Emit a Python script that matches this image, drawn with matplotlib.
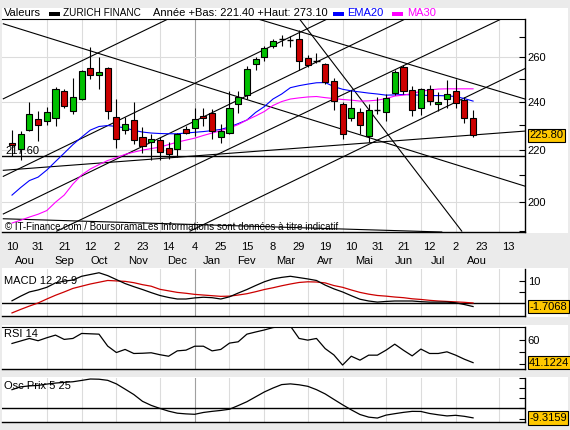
import matplotlib
matplotlib.use("Agg")
import matplotlib.pyplot as plt
from matplotlib.patches import Rectangle
from matplotlib.transforms import blended_transform_factory
from matplotlib.ticker import FixedLocator, NullFormatter

# weekly candles, ZURICH FINANC, week of 10 Aug 2009 .. week of 16 Aug 2010
weeks = list(range(54))
open_ = [222.5, 220.3, 228.0, 232.6, 231.9, 233.0, 244.5, 235.8, 241.2, 255.2,
         252.0, 255.2, 233.5, 228.1, 232.2, 225.0, 223.1, 223.7, 220.6, 220.3,
         228.4, 228.9, 234.0, 235.2, 225.0, 226.9, 239.0, 242.7, 257.0, 260.0,
         265.4, 268.5, 268.4, 268.9, 259.6, 258.3, 257.0, 249.3, 239.0, 233.0,
         235.4, 225.3, 236.4, 235.4, 243.7, 255.7, 245.1, 237.0, 245.6, 239.0,
         241.2, 244.5, 240.7, 233.0]
high = [227.8, 227.7, 240.0, 236.0, 237.5, 246.6, 245.6, 250.3, 254.0, 265.0,
        260.3, 255.5, 240.9, 233.3, 239.8, 229.0, 226.3, 225.0, 223.0, 226.7,
        229.8, 237.0, 237.3, 236.6, 230.5, 244.5, 244.8, 255.9, 260.3, 265.4,
        268.9, 270.5, 270.3, 273.1, 261.0, 262.0, 257.4, 250.5, 239.7, 245.2,
        237.0, 239.0, 241.9, 243.3, 254.2, 256.6, 247.0, 246.0, 247.4, 244.1,
        249.6, 250.0, 241.9, 236.4]
low = [217.5, 216.0, 227.5, 223.4, 230.0, 229.8, 237.0, 234.7, 240.7, 250.0,
       245.6, 232.6, 220.6, 226.3, 222.3, 218.5, 215.8, 216.0, 216.4, 217.0,
       226.3, 225.6, 229.8, 224.4, 222.6, 226.3, 235.0, 241.2, 253.9, 258.5,
       264.6, 265.4, 264.8, 253.9, 255.4, 257.5, 247.9, 236.4, 224.4, 231.9,
       226.3, 223.0, 234.7, 231.6, 242.8, 243.3, 234.0, 234.4, 238.7, 236.1,
       237.3, 237.3, 230.9, 225.0]
close = [222.0, 226.1, 234.7, 230.1, 235.6, 245.6, 238.0, 241.9, 253.6, 252.0,
         253.3, 236.1, 224.4, 230.5, 223.7, 221.4, 224.4, 219.2, 218.2, 226.3,
         226.8, 232.6, 233.0, 227.4, 227.7, 237.0, 241.9, 254.7, 259.3, 264.6,
         267.7, 268.7, 268.2, 258.5, 256.5, 258.5, 248.6, 240.4, 226.5, 237.0,
         230.1, 236.5, 236.7, 241.6, 253.4, 244.8, 236.4, 245.6, 240.4, 240.0,
         243.3, 239.4, 233.0, 225.8]

ema20 = [202.6, 205.4, 208.0, 209.3, 212.0, 215.3, 218.6, 222.0, 225.0, 227.9,
         229.4, 229.8, 229.4, 228.8, 227.8, 227.1, 226.7, 226.5, 226.4, 226.4,
         226.7, 227.0, 227.3, 227.7, 228.2, 229.2, 230.6, 232.1, 235.3, 237.8,
         241.1, 243.3, 246.1, 247.0, 247.7, 248.3, 248.4, 246.6, 245.4, 244.7,
         244.2, 243.7, 243.3, 242.8, 242.9, 243.1, 242.9, 242.8, 242.6, 242.6,
         242.5, 242.2, 241.3, 240.2]
ma30 = [192.6, 193.6, 194.7, 195.7, 197.0, 200.0, 202.6, 206.7, 210.1, 212.4,
        214.1, 215.7, 216.8, 218.1, 219.0, 219.8, 220.4, 221.0, 222.0, 223.0,
        223.8, 224.6, 225.7, 226.7, 227.7, 228.8, 230.2, 232.1, 233.8, 235.7,
        238.3, 240.0, 241.1, 241.6, 242.0, 242.2, 241.7, 241.3, 240.9, 240.6,
        240.2, 240.3, 240.6, 241.3, 242.4, 242.8, 243.5, 244.5, 245.1, 245.5,
        245.6, 245.6, 245.6, 245.6]

macd = [0.9, 3.0, 4.9, 5.8, 7.0, 9.0, 9.8, 10.3, 12.0, 12.8,
        13.6, 12.3, 10.5, 8.7, 7.3, 6.0, 4.6, 3.3, 2.4, 1.7,
        1.7, 2.2, 2.5, 2.3, 1.7, 2.7, 4.4, 6.0, 7.8, 9.5,
        10.8, 11.5, 12.0, 11.4, 10.8, 10.1, 8.0, 6.3, 4.9, 3.2,
        1.6, 0.8, 0.3, 0.6, 0.8, 0.8, 0.8, 0.5, 0.3, 0.3,
        0.3, 0.0, -0.8, -1.71]
signal = [-4.6, -3.0, -1.5, -0.1, 1.7, 3.4, 4.9, 6.5, 7.5, 8.5,
          9.3, 10.1, 9.9, 9.7, 9.1, 8.2, 7.5, 6.1, 5.4, 4.7,
          4.3, 3.8, 3.5, 3.2, 2.9, 3.0, 3.5, 4.1, 5.0, 6.0,
          6.8, 7.7, 8.5, 9.2, 9.5, 9.4, 9.0, 7.8, 7.0, 5.8,
          4.7, 3.9, 3.3, 3.0, 2.6, 2.3, 1.8, 1.5, 1.1, 0.8,
          0.6, 0.4, 0.2, -0.1]
rsi = [57.2, 59.3, 61.4, 59.5, 62.0, 64.2, 60.6, 61.4, 65.6, 65.3,
       65.0, 55.0, 49.6, 52.2, 48.8, 49.0, 49.4, 47.8, 46.5, 51.0,
       51.6, 54.9, 54.9, 51.0, 52.2, 57.5, 58.6, 65.0, 66.8, 68.5,
       70.5, 71.5, 71.8, 61.4, 60.0, 61.4, 52.9, 47.6, 39.1, 46.5,
       43.2, 47.4, 47.4, 51.6, 56.6, 51.5, 46.8, 52.5, 48.8, 48.8,
       50.2, 47.4, 44.0, 41.12]
osc = [18.5, 21.3, 22.2, 22.7, 24.0, 25.0, 25.7, 26.3, 27.6, 29.0,
       28.8, 27.7, 24.2, 19.0, 13.7, 7.0, 3.0, 0.0, -2.7, -4.7,
       -5.4, -5.8, -4.0, -2.9, -2.0, -0.8, 2.8, 6.6, 11.4, 16.2,
       20.1, 23.5, 24.2, 23.3, 21.8, 18.5, 14.3, 8.9, 3.6, -1.4,
       -6.0, -8.6, -9.5, -6.6, -5.2, -3.9, -2.9, -3.0, -5.0, -6.3,
       -7.4, -6.8, -7.8, -9.32]

# drawn trendlines: (week0, price0, week1, price1)
trendlines = [
    (-1.0, 276.3, 58.97, 205.9),
    (28.5, 278.4, 58.97, 241.1),
    (33.1, 278.4, 51.7, 189.8),
    (-1.0, 241.2, 17.8, 278.4),
    (-1.0, 209.6, 36.1, 278.4),
    (-1.0, 195.8, 45.06, 278.4),
    (5.14, 189.8, 56.1, 278.4),
    (20.46, 189.8, 58.97, 254.8),
    (-1.0, 211.9, 58.97, 227.5),
    (-1.0, 194.1, 49.4, 189.5),
]
support = 217.60

day_ticks = [0, 3, 6, 9, 12, 15, 18, 21, 24, 27, 30, 33, 36, 39, 42, 45, 48, 51, 54, 57]
day_labels = ["10", "31", "21", "12", "2", "23", "14", "4", "25", "15",
              "8", "29", "19", "10", "31", "21", "12", "2", "23", "13"]
month_starts = [-1, 4, 8, 12, 17, 21, 25, 29, 34, 38, 43, 47, 51, 56]
month_labels = ["Aou", "Sep", "Oct", "Nov", "Dec", "Jan", "Fev", "Mar",
                "Avr", "Mai", "Jun", "Jul", "Aou"]

W, H = 570, 430


def box(x0, y0, x1, y1):
    return [x0 / W, 1 - y1 / H, (x1 - x0) / W, (y1 - y0) / H]


plt.rcParams["font.family"] = ["Liberation Sans", "DejaVu Sans"]
plt.rcParams["font.size"] = 8

fig = plt.figure(figsize=(5.7, 4.3), dpi=100, facecolor="#ebebeb")

# white panel backgrounds
for y0, y1 in [(8, 233), (268, 317), (325, 370), (377, 423)]:
    fig.add_artist(Rectangle((2 / W, 1 - y1 / H), 566 / W, (y1 - y0) / H,
                             transform=fig.transFigure, facecolor="white",
                             edgecolor="none", zorder=-1))

XLIM = (-1.15, 58.97)


def setup(ax, ylim):
    ax.set_facecolor("none")
    ax.set_xlim(*XLIM)
    ax.set_ylim(*ylim)
    for s in ["left", "top"]:
        ax.spines[s].set_visible(False)
    for s in ["right", "bottom"]:
        ax.spines[s].set_linewidth(1.0)
    ax.yaxis.tick_right()
    ax.tick_params(axis="y", direction="in", length=4, width=0.8, pad=2, labelsize=8)
    ax.tick_params(axis="x", length=0)
    for m in month_starts[1:]:
        ax.axvline(m, color="#a0a0a0" if m == 21 else "#dcdcdc", lw=0.8, zorder=0)


# ---- main price panel
ax = fig.add_axes(box(2, 19, 525, 232))
ax.set_yscale("log")
setup(ax, (189.5, 278.7))
ax.spines["top"].set_visible(True)
ax.yaxis.set_major_locator(FixedLocator([200, 220, 240, 260]))
ax.yaxis.set_major_formatter(matplotlib.ticker.FixedFormatter(["200", "220", "240", "260"]))
ax.yaxis.set_minor_locator(FixedLocator([190, 210, 230, 250, 270]))
ax.yaxis.set_minor_formatter(NullFormatter())
ax.tick_params(axis="y", which="minor", direction="in", length=4, width=0.8)
for lvl in [200, 220, 240, 260]:
    ax.axhline(lvl, color="#dcdcdc", lw=0.8, zorder=0)

ax.set_xticks(day_ticks)
ax.set_xticklabels(day_labels)
ax.tick_params(axis="x", pad=7, labelsize=8)

for x0, p0, x1, p1 in trendlines:
    ax.plot([x0, x1], [p0, p1], color="black", lw=0.8, zorder=2)
ax.axhline(support, color="black", lw=1.0, zorder=2)

ax.plot(weeks, ema20, color="#0000ff", lw=0.8, zorder=3)
ax.plot(weeks, ma30, color="#ff00ff", lw=0.8, zorder=3)

for i, o, h, l, c in zip(weeks, open_, high, low, close):
    ax.vlines(i, l, h, color="black", lw=0.8, zorder=4)
    if abs(c - o) < 0.4:
        ax.hlines((o + c) / 2, i - 0.35, i + 0.35, color="black", lw=1.0, zorder=5)
    else:
        ax.bar(i, abs(c - o), bottom=min(o, c), width=0.7,
               color="#00c000" if c > o else "#cc0000",
               edgecolor="black", lw=0.8, zorder=5)

ax.text(0.006, support, "217.60", transform=blended_transform_factory(ax.transAxes, ax.transData),
        va="bottom", ha="left", fontsize=8)

yt = blended_transform_factory(ax.transAxes, ax.transData)
ax.text(1.008, close[-1], "%.2f" % close[-1], transform=yt, va="center", ha="left", fontsize=8,
        bbox=dict(boxstyle="square,pad=0.15", fc="#ffc800", ec="black", lw=0.8), zorder=10)

mt = blended_transform_factory(ax.transData, fig.transFigure)
for k, lab in enumerate(month_labels):
    mid = (month_starts[k] + month_starts[k + 1]) / 2
    ax.text(mid, 1 - 261 / H, lab, transform=mt, ha="center", va="center", fontsize=8, clip_on=False)

fig.text(5 / W, 1 - 227 / H,
         "\u00a9 IT-Finance.com / BoursoramaLes informations sont donn\u00e9es \u00e0 titre indicatif",
         fontsize=7, va="center", ha="left")

# title row
ty = 1 - 13.5 / H
fig.text(4 / W, ty, "Valeurs", va="center", fontsize=8)
fig.add_artist(Rectangle((49 / W, 1 - 15.5 / H), 11 / W, 3.5 / H, transform=fig.transFigure,
                         fc="black", ec="none"))
fig.text(63 / W, ty, "ZURICH FINANC", va="center", fontsize=7.2)
fig.text(153 / W, ty, "Ann\u00e9e +Bas: 221.40 +Haut: 273.10", va="center", fontsize=8)
fig.add_artist(Rectangle((333 / W, 1 - 15.5 / H), 11 / W, 3.5 / H, transform=fig.transFigure,
                         fc="#0000ff", ec="none"))
fig.text(347 / W, ty, "EMA20", va="center", fontsize=8, color="#0000ff")
fig.add_artist(Rectangle((392 / W, 1 - 15.5 / H), 11 / W, 3.5 / H, transform=fig.transFigure,
                         fc="#ff00ff", ec="none"))
fig.text(407 / W, ty, "MA30", va="center", fontsize=8, color="#ff00ff")


def value_box(a, v, txt):
    t = blended_transform_factory(a.transAxes, a.transData)
    a.text(1.008, v, txt, transform=t, va="center", ha="left", fontsize=8,
           bbox=dict(boxstyle="square,pad=0.15", fc="#ffc800", ec="black", lw=0.8),
           zorder=10, clip_on=False)


# ---- MACD
axm = fig.add_axes(box(2, 269, 525, 316))
setup(axm, (-6.0, 15.3))
axm.set_xticks([])
axm.set_yticks([5, 10])
axm.set_yticklabels(["", "10"])
axm.axhline(0, color="black", lw=1.0, zorder=1)
axm.plot(weeks, signal, color="#cc0000", lw=0.9, zorder=3)
axm.plot(weeks, macd, color="black", lw=0.9, zorder=3)
value_box(axm, -1.7068, "-1.7068")
fig.text(4 / W, 1 - 281 / H, "MACD 12 26 9", va="center", fontsize=8)

# ---- RSI
axr = fig.add_axes(box(2, 327, 525, 369))
setup(axr, (35.8, 71.0))
axr.spines["top"].set_visible(True)
axr.set_xticks([])
axr.set_yticks([40, 50, 60])
axr.set_yticklabels(["", "", "60"])
axr.plot(weeks, rsi, color="black", lw=0.9, zorder=3)
value_box(axr, 41.1224, "41.1224")
fig.text(4 / W, 1 - 334 / H, "RSI 14", va="center", fontsize=8)

# ---- Price oscillator
axo = fig.add_axes(box(2, 378, 525, 422))
setup(axo, (-13.4, 30.0))
axo.set_xticks([])
axo.set_yticks([-10, 0, 10, 20, 30])
axo.set_yticklabels([])
axo.axhline(0, color="black", lw=1.0, zorder=1)
axo.plot(weeks, osc, color="black", lw=0.9, zorder=3)
value_box(axo, -9.3159, "-9.3159")
fig.text(4 / W, 1 - 386 / H, "Osc Prix 5 25", va="center", fontsize=8)

fig.savefig("out.png", dpi=100, facecolor=fig.get_facecolor())
